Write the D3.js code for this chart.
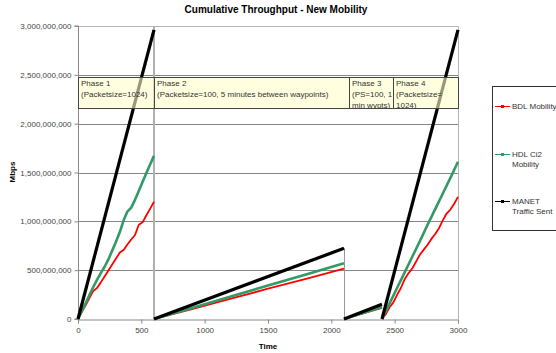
<!DOCTYPE html>
<html>
<head>
<meta charset="utf-8">
<script src="https://cdn.jsdelivr.net/npm/d3@7"></script>
<style>
  html, body { margin: 0; padding: 0; background: #fff; }
  svg { display: block; font-family: "Liberation Sans", Arial, sans-serif; }
</style>
</head>
<body>
<svg id="chart" width="556" height="353"></svg>
<script>
// Cumulative throughput per phase (values in millions)
const xTicks = [0, 500, 1000, 1500, 2000, 2500, 3000];
const yTicks = [0, 500, 1000, 1500, 2000, 2500, 3000];

// Phase 1 (0-600 s)
const p1Time = [0, 30, 60, 90, 120, 150, 180, 210, 240, 270, 300, 330, 360, 390, 420, 450, 480, 510, 540, 570, 600];
const p1BDL  = [0, 70, 140, 215, 285, 318, 375, 436, 497, 558, 619, 680, 707, 762, 814, 860, 965, 990, 1062, 1130, 1200];
const p1HDL  = [0, 80, 160, 245, 325, 400, 470, 535, 610, 700, 790, 890, 1010, 1100, 1140, 1220, 1310, 1405, 1495, 1585, 1670];
const p1ManetTime = [0, 600];
const p1MANET = [0, 2960];

// Phase 2 (600-2100 s)
const p2Time = [600, 900, 1200, 1500, 1800, 2100];
const p2BDL  = [0, 100, 205, 310, 410, 515];
const p2HDL  = [0, 112, 228, 342, 455, 571];
const p2ManetTime = [600, 2100];
const p2MANET = [0, 724];

// Phase 3 (2100-2400 s)
const p3Time = [2100, 2400];
const p3BDL  = [0, 115];
const p3HDL  = [0, 123];
const p3MANET = [0, 150];

// Phase 4 (2400-3000 s)
const p4Time = [2400, 2430, 2460, 2490, 2520, 2550, 2580, 2610, 2640, 2670, 2700, 2730, 2760, 2790, 2820, 2850, 2880, 2910, 2940, 2970, 3000];
const p4BDL  = [0, 50, 120, 170, 250, 320, 410, 470, 520, 590, 660, 710, 760, 820, 870, 930, 1010, 1080, 1120, 1180, 1250];
const p4HdlTime = [2400, 2460, 2520, 2580, 2640, 2700, 2760, 2820, 2880, 2940, 3000];
const p4HDL  = [0, 160, 320, 480, 640, 800, 965, 1125, 1285, 1445, 1610];
const p4ManetTime = [2400, 3000];
const p4MANET = [0, 2960];

const seriesNames = ["BDL Mobility", "HDL Ci2 Mobility", "MANET Traffic Sent"];
const phaseLabels = [
  ["Phase 1", "(Packetsize=1024)"],
  ["Phase 2", "(Packetsize=100, 5 minutes between waypoints)"],
  ["Phase 3", "(PS=100, 1", "min wypts)"],
  ["Phase 4", "(Packetsize=", "1024)"]
];

const zip = (t, v) => t.map((d, i) => [d, v[i]]);
const series = [
  { name: seriesNames[0], color: "#ff0000", width: 1.8, parts: [zip(p1Time, p1BDL), zip(p2Time, p2BDL), zip(p3Time, p3BDL), zip(p4Time, p4BDL)] },
  { name: seriesNames[1], color: "#339966", width: 2.6, parts: [zip(p1Time, p1HDL), zip(p2Time, p2HDL), zip(p3Time, p3HDL), zip(p4HdlTime, p4HDL)] },
  { name: seriesNames[2], color: "#000000", width: 3.2, parts: [zip(p1ManetTime, p1MANET), zip(p2ManetTime, p2MANET), zip(p3Time, p3MANET), zip(p4ManetTime, p4MANET)] }
];

const svg = d3.select("#chart");
const x = d3.scaleLinear().domain([0, 3000]).range([78, 458]);
const y = d3.scaleLinear().domain([0, 3000]).range([319, 26]);

// Title
svg.append("text").attr("x", 276).attr("y", 13).attr("text-anchor", "middle")
  .attr("font-size", 10).attr("font-weight", "bold").attr("fill", "#000")
  .text("Cumulative Throughput - New Mobility");

// Horizontal gridlines
svg.append("g").selectAll("line").data(yTicks.slice(1, -1)).join("line")
  .attr("x1", x(0)).attr("x2", x(3000))
  .attr("y1", d => Math.round(y(d)) + 0.5).attr("y2", d => Math.round(y(d)) + 0.5)
  .attr("stroke", "#858585").attr("stroke-width", 1);

// Plot frame (top and right)
svg.append("path")
  .attr("d", `M${x(0)},${Math.round(y(3000)) + 0.5}H${x(3000) + 0.5}V${y(0)}`)
  .attr("fill", "none").attr("stroke", "#b4b4b4").attr("stroke-width", 1);

// Phase divider at 600 s
svg.append("line").attr("x1", x(600)).attr("x2", x(600))
  .attr("y1", y(3000)).attr("y2", y(0))
  .attr("stroke", "#b0b0b0").attr("stroke-width", 2);

// Drop line at the end of phase 2
svg.append("line").attr("x1", x(2100) + 0.5).attr("x2", x(2100) + 0.5)
  .attr("y1", y(p2MANET[p2MANET.length - 1])).attr("y2", y(0))
  .attr("stroke", "#999").attr("stroke-width", 1);

// Axes
const yAxis = d3.axisLeft(y).tickValues(yTicks).tickSize(4).tickPadding(3)
  .tickFormat(d => d3.format(",")(d * 1e6));
const gy = svg.append("g").attr("transform", `translate(${x(0) + 0.5},0)`).call(yAxis);
const xAxis = d3.axisBottom(x).tickValues(xTicks).tickSize(4).tickPadding(4)
  .tickFormat(d3.format("d"));
const gx = svg.append("g").attr("transform", `translate(0,${y(0) + 0.5})`).call(xAxis);
[gx, gy].forEach(g => {
  g.select(".domain").attr("stroke", "#888");
  g.selectAll(".tick line").attr("stroke", "#888");
  g.selectAll(".tick text").attr("fill", "#444").attr("font-size", 8)
    .attr("font-family", "'Liberation Sans', Arial, sans-serif");
});
gy.select(".domain").attr("d", `M-4,${y(3000)}H0V${y(0)}H-4`);

// Axis titles
svg.append("text").attr("x", 268).attr("y", 349).attr("text-anchor", "middle")
  .attr("font-size", 8).attr("font-weight", "bold").text("Time");
svg.append("text").attr("transform", "translate(15,172) rotate(-90)").attr("text-anchor", "middle")
  .attr("font-size", 8).attr("font-weight", "bold").text("Mbps");

// Series lines
const line = d3.line().x(d => x(d[0])).y(d => y(d[1]));
const gLines = svg.append("g");
series.forEach(s => {
  gLines.append("g").selectAll("path").data(s.parts).join("path")
    .attr("d", line).attr("fill", "none").attr("stroke", s.color)
    .attr("stroke-width", s.width).attr("stroke-linejoin", "round");
});

// Phase annotation table
const colEdges = [78, 154, 349, 393, 458];
const tTop = 77.5, tBot = 108.5;
svg.append("clipPath").attr("id", "tableClip").append("rect")
  .attr("x", colEdges[0]).attr("y", tTop).attr("width", colEdges[4] - colEdges[0]).attr("height", tBot - tTop);
const gTable = svg.append("g");
gTable.append("rect").attr("x", colEdges[0] + 0.5).attr("y", tTop)
  .attr("width", colEdges[4] - colEdges[0]).attr("height", tBot - tTop)
  .attr("fill", "#ffffcc").attr("fill-opacity", 0.6).attr("stroke", "#444").attr("stroke-width", 1);
gTable.selectAll("line.col").data(colEdges.slice(1, -1)).join("line")
  .attr("x1", d => d + 0.5).attr("x2", d => d + 0.5).attr("y1", tTop).attr("y2", tBot)
  .attr("stroke", "#444").attr("stroke-width", 1);
const gTableText = gTable.append("g").attr("clip-path", "url(#tableClip)");
phaseLabels.forEach((lines, i) => {
  const t = gTableText.append("text").attr("font-size", 8).attr("fill", "#333");
  lines.forEach((l, j) => {
    t.append("tspan").attr("x", colEdges[i] + 3).attr("y", 85.5 + j * 11.3).text(l);
  });
});

// Legend
const gLeg = svg.append("g");
gLeg.append("rect").attr("x", 492.5).attr("y", 86.5).attr("width", 80).attr("height", 144)
  .attr("fill", "#fff").attr("stroke", "#333").attr("stroke-width", 1);
const legY = [106, 154, 201];
const legText = [["BDL Mobility"], ["HDL Ci2", "Mobility"], ["MANET", "Traffic Sent"]];
series.forEach((s, i) => {
  gLeg.append("line").attr("x1", 495).attr("x2", 510).attr("y1", legY[i] + 0.5).attr("y2", legY[i] + 0.5)
    .attr("stroke", s.color).attr("stroke-width", 1);
  gLeg.append("rect").attr("x", 501).attr("y", legY[i] - 1).attr("width", 3).attr("height", 3)
    .attr("fill", s.color);
  const t = gLeg.append("text").attr("font-size", 8).attr("fill", "#333");
  legText[i].forEach((l, j) => {
    t.append("tspan").attr("x", 512).attr("y", legY[i] + 3 + j * 9.5).text(l);
  });
});
</script>
</body>
</html>
